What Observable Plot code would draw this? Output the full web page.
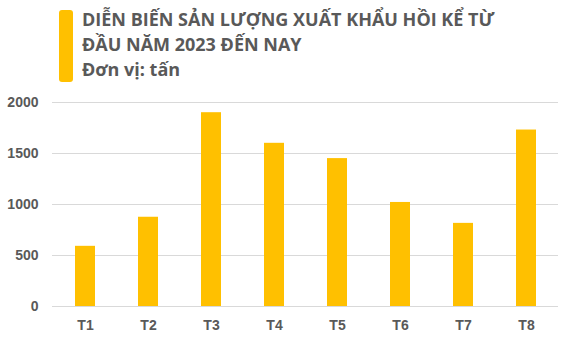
<!DOCTYPE html>
<html>
<head>
<meta charset="utf-8">
<script src="https://cdn.jsdelivr.net/npm/d3@7"></script>
<script src="https://cdn.jsdelivr.net/npm/@observablehq/plot@0.6"></script>
<style>
  html, body { margin: 0; padding: 0; background: #fff; }
  #wrap { width: 573px; height: 345px; position: relative; overflow: hidden; }
  #head { position: relative; height: 90px; }
  #bar { position: absolute; left: 59px; top: 10px; width: 14px; height: 72px; background: #FFC000; border-radius: 3px; }
  #title { position: absolute; left: 82px; top: 7px; font-family: "Open Sans", sans-serif; font-weight: 700; font-size: 18px; line-height: 25px; color: #595959; white-space: nowrap; }
</style>
</head>
<body>
<div id="wrap">
  <div id="head">
    <div id="bar"></div>
    <div id="title">DIỄN BIẾN SẢN LƯỢNG XUẤT KHẨU HỒI KỂ TỪ<br>ĐẦU NĂM 2023 ĐẾN NAY<br>Đơn vị: tấn</div>
  </div>
  <div id="chart"></div>
</div>
<script>
const months = ["T1", "T2", "T3", "T4", "T5", "T6", "T7", "T8"];
const volumes = [590, 875, 1900, 1600, 1450, 1020, 815, 1730];
const yTicks = [0, 500, 1000, 1500, 2000];

const data = months.map((m, i) => ({month: m, value: volumes[i]}));

const plot = Plot.plot({
  width: 573,
  height: 255,
  marginTop: 12,
  marginBottom: 39,
  marginLeft: 52,
  marginRight: 15,
  style: {fontFamily: "'Liberation Sans', Arial, sans-serif", fontSize: "14px", fontWeight: "bold", color: "#595959", background: "#fff"},
  x: {domain: months, paddingInner: 0.69, paddingOuter: 0.345, label: null},
  y: {domain: [0, 2000], label: null},
  marks: [
    Plot.ruleY(yTicks, {stroke: "#d9d9d9", strokeWidth: 1}),
    Plot.barY(data, {x: "month", y: "value", fill: "#FFC000"}),
    Plot.axisY(yTicks, {tickSize: 0, tickPadding: 14, label: null, tickFormat: d => String(d), fill: "#595959", fontWeight: "bold", fontSize: 14}),
    Plot.axisX({tickSize: 0, tickPadding: 14, label: null, fill: "#595959", fontWeight: "bold", fontSize: 14})
  ]
});
document.getElementById("chart").appendChild(plot);
</script>
</body>
</html>
